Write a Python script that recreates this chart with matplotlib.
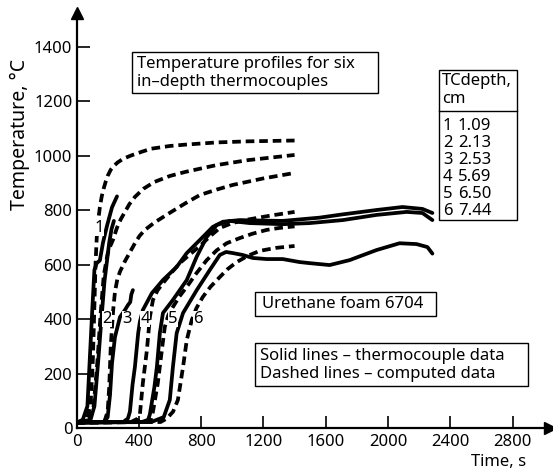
import matplotlib
matplotlib.use("Agg")
import matplotlib.pyplot as plt
from matplotlib.patches import Rectangle
from matplotlib.lines import Line2D

plt.rcParams['font.family'] = ['Noto Sans', 'DejaVu Sans']

# solid lines - thermocouple data (time s, temperature C)
s1_t = [0, 40, 70, 85, 100, 115, 130, 150, 170, 195, 228, 260]
s1_T = [20, 30, 80, 250, 420, 580, 605, 615, 680, 740, 810, 850]
s2_t = [0, 90, 115, 140, 160, 180, 195, 210, 225, 240]
s2_T = [20, 30, 80, 250, 400, 540, 610, 680, 730, 760]
s3_t = [0, 180, 200, 215, 228, 247, 279, 311, 330, 345, 352, 362]
s3_T = [20, 22, 40, 120, 238, 334, 407, 433, 451, 462, 490, 506]
s4_t = [0, 300, 330, 343, 360, 375, 396, 407, 426, 484, 555, 643, 708, 792, 875, 940,
        1048, 1112, 1324, 1561, 1709, 1926, 2093, 2221, 2285]
s4_T = [20, 22, 35, 60, 160, 224, 348, 390, 433, 495, 543, 591, 642, 690, 738, 757,
        763, 762, 760, 772, 784, 800, 811, 804, 789]
s5_t = [0, 420, 460, 471, 500, 516, 535, 555, 619, 708, 772, 836, 900, 984, 1112,
        1324, 1497, 1709, 1926, 2119, 2221, 2285]
s5_T = [20, 22, 30, 50, 150, 224, 348, 422, 470, 543, 629, 701, 745, 760, 752,
        748, 752, 763, 782, 793, 789, 763]
s6_t = [0, 480, 560, 599, 619, 643, 684, 772, 856, 920, 960, 1003, 1067, 1131, 1221,
        1324, 1432, 1497, 1625, 1753, 1926, 2074, 2183, 2253, 2285]
s6_T = [20, 22, 40, 103, 224, 348, 422, 506, 580, 635, 646, 642, 635, 624, 620,
        620, 609, 605, 598, 616, 653, 678, 675, 664, 640]

# dashed lines - computed data
d1_t = [0, 60, 90, 105, 115, 122, 130, 140, 150, 162, 175, 188, 200, 220, 240, 265,
        300, 350, 420, 480, 600, 700, 900, 1100, 1400]
d1_T = [20, 25, 80, 250, 450, 600, 700, 765, 810, 850, 880, 905, 925, 948, 962, 975,
        988, 1000, 1014, 1025, 1035, 1040, 1048, 1052, 1055]
d2_t = [0, 80, 110, 135, 155, 175, 200, 217, 234, 260, 285, 311, 340, 375, 430, 500,
        600, 700, 900, 1100, 1400]
d2_T = [20, 25, 80, 250, 420, 560, 640, 668, 690, 735, 767, 793, 822, 848, 878, 903,
        925, 940, 965, 983, 1002]
d3_t = [0, 150, 180, 200, 210, 220, 235, 247, 262, 280, 311, 343, 375, 405, 439, 503,
        600, 700, 792, 900, 1003, 1200, 1400]
d3_T = [20, 22, 25, 60, 150, 300, 430, 500, 545, 575, 612, 645, 678, 705, 727, 755,
        790, 825, 855, 875, 892, 916, 936]
d4_t = [0, 350, 395, 407, 426, 452, 471, 491, 520, 560, 610, 663, 730, 792, 860, 920,
        1000, 1100, 1250, 1400]
d4_T = [20, 22, 35, 50, 165, 286, 407, 470, 505, 535, 570, 605, 638, 668, 705, 734,
        752, 765, 780, 793]
d5_t = [0, 440, 480, 491, 522, 548, 567, 590, 619, 660, 708, 770, 836, 900, 964, 1048,
        1130, 1221, 1300, 1400]
d5_T = [20, 22, 35, 60, 165, 286, 371, 415, 444, 482, 518, 568, 616, 652, 678, 697,
        713, 727, 734, 740]
d6_t = [0, 540, 580, 620, 651, 684, 708, 740, 770, 811, 860, 920, 970, 1029, 1100,
        1176, 1280, 1400]
d6_T = [20, 22, 35, 60, 103, 224, 323, 396, 440, 481, 518, 554, 583, 609, 632,
        650, 661, 668]

curve_labels = ['1', '2', '3', '4', '5', '6']
label_t = [145, 195, 325, 440, 619, 782]
label_T = [735, 400, 400, 400, 400, 400]

tc_num = ['1', '2', '3', '4', '5', '6']
tc_depth = ['1.09', '2.13', '2.53', '5.69', '6.50', '7.44']

W, H = 553, 471
fig = plt.figure(figsize=(W / 100, H / 100), dpi=100)
ax = fig.add_axes([76.5 / W, 1 - 428 / H, (550 - 76.5) / W, (428 - 13) / H])


def fx(px):
    return px / W


def fy(py):
    return 1 - py / H


for t, T in [(s1_t, s1_T), (s2_t, s2_T), (s3_t, s3_T), (s4_t, s4_T), (s5_t, s5_T), (s6_t, s6_T)]:
    ax.plot(t, T, '-', color='black', lw=2.7, solid_capstyle='round', solid_joinstyle='round')
for t, T in [(d1_t, d1_T), (d2_t, d2_T), (d3_t, d3_T), (d4_t, d4_T), (d5_t, d5_T), (d6_t, d6_T)]:
    ax.plot(t, T, color='black', lw=2.7, dashes=(2.3, 1.3), dash_joinstyle='round')

for lab, t, T in zip(curve_labels, label_t, label_T):
    ax.text(t, T, lab, fontsize=12, ha='center', va='center', zorder=5,
            bbox=dict(fc='white', ec='none', pad=0.2))

ax.set_xlim(0, 3040)
ax.set_ylim(0, 1523)
ax.set_xticks(range(0, 3000, 400))
ax.set_yticks(range(0, 1500, 200))
ax.tick_params(direction='in', length=9, width=1.2, labelsize=12)
ax.tick_params(axis='y', pad=3)
ax.tick_params(axis='x', pad=4)
for side in ['top', 'right']:
    ax.spines[side].set_visible(False)
for side in ['left', 'bottom']:
    ax.spines[side].set_linewidth(1.6)
ax.plot(1, 0, '>', color='black', ms=8, transform=ax.transAxes, clip_on=False)
ax.plot(0, 1, '^', color='black', ms=8, transform=ax.transAxes, clip_on=False)

fig.text(fx(20), fy(134), 'Temperature, °C', rotation=90, ha='center', va='center', fontsize=14)
fig.text(fx(499), fy(462), 'Time, s', ha='center', va='center', fontsize=12)


def box(x0, y0, x1, y1):
    fig.add_artist(Rectangle((fx(x0), fy(y1)), (x1 - x0) / W, (y1 - y0) / H,
                             transform=fig.transFigure, fill=False, lw=1.0, ec='black'))


# title box
box(132, 52, 378, 93)
fig.text(fx(137), fy(64), 'Temperature profiles for six', fontsize=12, va='center')
fig.text(fx(137), fy(82), 'in\u2013depth thermocouples', fontsize=12, va='center')

# depth table
box(439, 70, 517, 220)
fig.add_artist(Line2D([fx(439), fx(517)], [fy(111), fy(111)], transform=fig.transFigure,
                      color='black', lw=1.0))
fig.text(fx(442), fy(81), 'TCdepth,', fontsize=12, va='center')
fig.text(fx(442), fy(99), 'cm', fontsize=12, va='center')
for i, (n, d) in enumerate(zip(tc_num, tc_depth)):
    yy = 126 + i * 17
    fig.text(fx(443), fy(yy), n, fontsize=12, va='center')
    fig.text(fx(458), fy(yy), d, fontsize=12, va='center')

# material box
box(255, 292, 436, 316)
fig.text(fx(262), fy(304), 'Urethane foam 6704', fontsize=12, va='center')

# line style note
box(255, 343, 528, 386)
fig.text(fx(260), fy(356), 'Solid lines \u2013 thermocouple data', fontsize=12, va='center')
fig.text(fx(260), fy(374), 'Dashed lines \u2013 computed data', fontsize=12, va='center')

fig.savefig('out.png', dpi=100)
